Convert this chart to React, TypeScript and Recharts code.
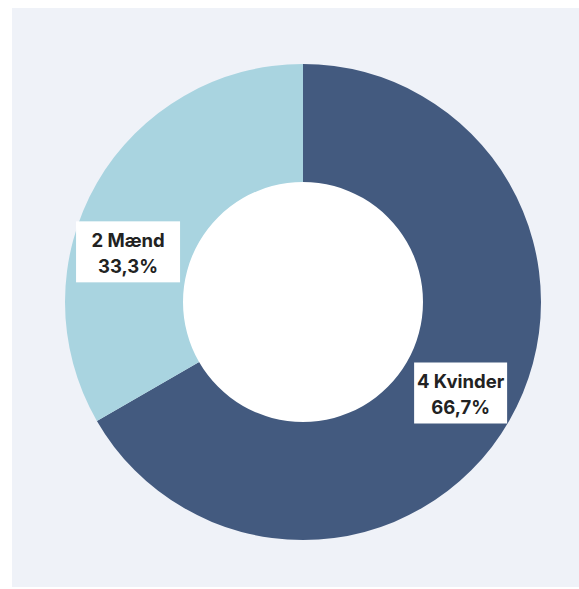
import { PieChart, Pie, Cell } from "recharts";

const categories = ["Kvinder", "Mænd"];
const counts = [4, 2];
const percentLabels = ["66,7%", "33,3%"];
const colors = ["#435a7f", "#a9d4e0"];

// the Mænd label sits a bit lower than its slice midpoint in the original
const LABEL_ANGLE_SHIFT = [0, 14];
const LABEL_BOX_WIDTH = [93, 104];

const data = categories.map((name, i) => ({
  name,
  value: counts[i],
  pct: percentLabels[i],
}));

const RADIAN = Math.PI / 180;

interface LabelProps {
  cx: number;
  cy: number;
  midAngle: number;
  innerRadius: number;
  outerRadius: number;
  index: number;
}

function SliceLabel({ cx, cy, midAngle, innerRadius, outerRadius, index }: LabelProps) {
  const r = (innerRadius + outerRadius) / 2 + 3;
  const angle = midAngle + LABEL_ANGLE_SHIFT[index];
  const x = cx + r * Math.cos(-angle * RADIAN);
  const y = cy + r * Math.sin(-angle * RADIAN);
  const d = data[index];
  const w = LABEL_BOX_WIDTH[index];
  const h = 61;
  const textStyle = {
    fontSize: 18.5,
    fontWeight: 700,
    fontFamily: "Inter, 'Noto Sans', sans-serif",
  };
  return (
    <g>
      <rect x={x - w / 2} y={y - h / 2} width={w} height={h} fill="#ffffff" />
      <text x={x} y={y - 5} textAnchor="middle" fill="#222222" style={textStyle}>
        {`${d.value} ${d.name}`}
      </text>
      <text x={x} y={y + 21} textAnchor="middle" fill="#222222" style={textStyle}>
        {d.pct}
      </text>
    </g>
  );
}

export default function App() {
  return (
    <div
      style={{
        position: "absolute",
        left: 12,
        top: 8,
        width: 567,
        height: 579,
        background: "#eff2f8",
      }}
    >
      <PieChart width={567} height={579} margin={{ top: 0, right: 0, bottom: 0, left: 0 }}>
        <Pie
          data={[{ value: 1 }]}
          dataKey="value"
          cx={291}
          cy={294}
          outerRadius={121}
          innerRadius={0}
          fill="#ffffff"
          stroke="none"
          isAnimationActive={false}
        />
        <Pie
          data={data}
          dataKey="value"
          cx={291}
          cy={294}
          innerRadius={120}
          outerRadius={238}
          startAngle={90}
          endAngle={-270}
          stroke="none"
          labelLine={false}
          label={(p: any) => <SliceLabel {...p} />}
          isAnimationActive={false}
        >
          {data.map((d, i) => (
            <Cell key={d.name} fill={colors[i]} />
          ))}
        </Pie>
      </PieChart>
    </div>
  );
}
